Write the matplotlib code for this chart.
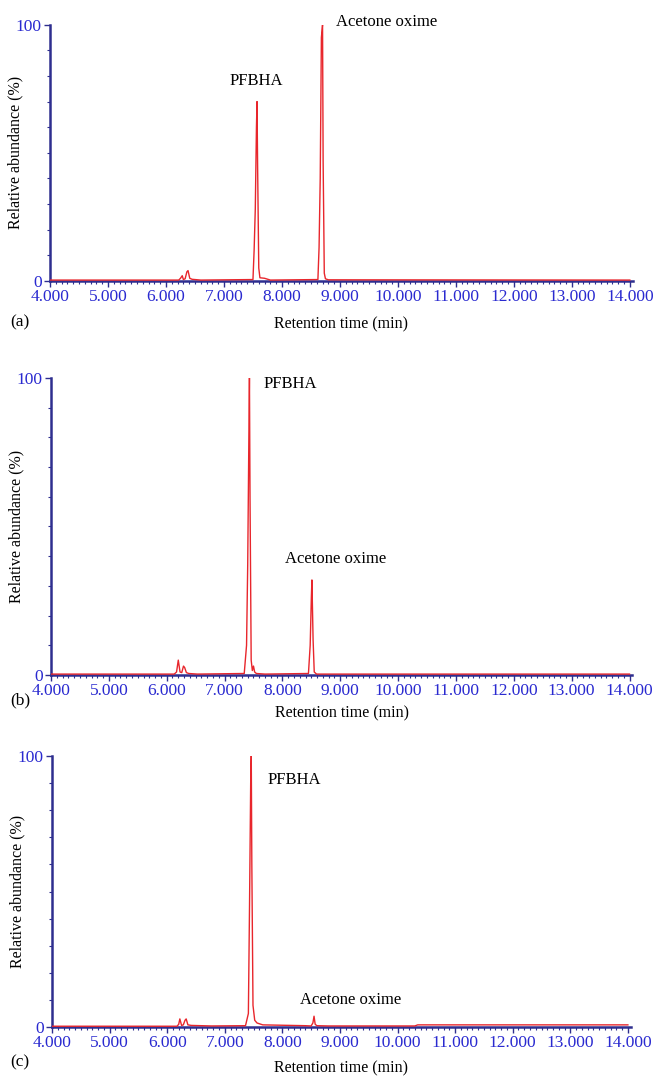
import matplotlib
matplotlib.use("Agg")
from matplotlib import pyplot as plt
from matplotlib.ticker import MultipleLocator, FormatStrFormatter

plt.rcParams["font.family"] = ["Liberation Serif", "DejaVu Serif"]

# chromatogram traces (time in min, relative abundance in %)
a_time = [4.00, 6.22, 6.25, 6.28, 6.30, 6.33, 6.36, 6.38, 6.41, 6.45, 6.50, 6.60,
          7.50, 7.52, 7.54, 7.56, 7.57, 7.58, 7.60, 7.62, 7.70, 7.80,
          8.62, 8.64, 8.66, 8.68, 8.70, 8.71, 8.73, 8.75, 8.80, 14.00]
a_abund = [0.3, 0.3, 1.0, 2.0, 0.5, 0.8, 3.5, 4.0, 1.0, 0.6, 0.5, 0.3,
           0.5, 12, 28, 60, 70, 45, 5, 1.2, 1.0, 0.3,
           0.5, 13, 40, 95, 100, 47, 3, 0.8, 0.4, 0.3]

b_time = [4.00, 6.13, 6.17, 6.20, 6.23, 6.26, 6.29, 6.31, 6.34, 6.38, 6.53,
          7.34, 7.38, 7.40, 7.42, 7.43, 7.44, 7.46, 7.48, 7.50, 7.52, 7.55, 7.70,
          8.45, 8.48, 8.50, 8.51, 8.53, 8.55, 8.59, 14.00]
b_abund = [0.3, 0.3, 1.0, 5.0, 1.0, 0.8, 3.0, 2.5, 0.8, 0.5, 0.3,
           0.5, 10, 37, 80, 100, 60, 5, 1.5, 3.0, 1.0, 0.5, 0.3,
           0.5, 10, 26, 32, 12, 1.0, 0.3, 0.3]

c_time = [4.00, 6.17, 6.20, 6.22, 6.25, 6.28, 6.31, 6.33, 6.36, 6.42, 6.77,
          7.36, 7.41, 7.43, 7.45, 7.46, 7.47, 7.49, 7.52, 7.56, 7.66,
          8.40, 8.50, 8.53, 8.55, 8.57, 8.60, 8.80, 10.30, 10.35, 14.00]
c_abund = [0.3, 0.3, 1.0, 3.0, 0.6, 0.8, 2.5, 3.0, 0.8, 0.6, 0.4,
           0.5, 5, 45, 90, 100, 60, 8, 2.5, 1.5, 0.8,
           0.5, 0.4, 1.5, 4.0, 1.0, 0.5, 0.4, 0.4, 0.8, 0.8]

panels = ["(a)", "(b)", "(c)"]
times = [a_time, b_time, c_time]
abunds = [a_abund, b_abund, c_abund]
# peak labels: (text, x, y, horizontal alignment)
labels = [
    [("PFBHA", 7.55, 78, "center"), ("Acetone oxime", 8.93, 101, "left")],
    [("PFBHA", 7.68, 98, "left"), ("Acetone oxime", 8.05, 39, "left")],
    [("PFBHA", 7.75, 91, "left"), ("Acetone oxime", 8.30, 10, "left")],
]

# axes boxes in figure fraction (left, bottom, width, height)
boxes = [
    (0.0765, 0.739, 0.891, 0.238),
    (0.078, 0.3727, 0.889, 0.276),
    (0.0795, 0.0455, 0.885, 0.2519),
]
xlab_y = [-0.137, -0.104, -0.122]
panel_y = [322, 700, 1062]

red = "#e8262c"
navy = "#2e2e8f"
blue = "#2a2ad0"

fig = plt.figure(figsize=(6.54, 10.76), dpi=100)

for i in range(3):
    ax = fig.add_axes(boxes[i])
    ax.plot(times[i], abunds[i], color=red, lw=1.0, zorder=3)
    ax.set_xlim(4.0, 14.05)
    ax.set_ylim(0, 100)
    ax.spines["top"].set_visible(False)
    ax.spines["right"].set_visible(False)
    for s in ["left", "bottom"]:
        ax.spines[s].set_color(navy)
        ax.spines[s].set_linewidth(1.8)
    ax.set_xticks([4, 5, 6, 7, 8, 9, 10, 11, 12, 13, 14])
    ax.xaxis.set_major_formatter(FormatStrFormatter("%.3f"))
    ax.xaxis.set_minor_locator(MultipleLocator(0.1))
    ax.set_yticks([0, 100])
    ax.yaxis.set_minor_locator(MultipleLocator(10))
    ax.tick_params(which="major", length=4, width=1, color=navy,
                   labelcolor=blue, labelsize=12.5, pad=2)
    ax.tick_params(which="minor", length=2.5, width=0.8, color=navy)
    ax.set_xlabel("Retention time (min)", fontsize=11.5)
    ax.xaxis.set_label_coords(0.5, xlab_y[i])
    ax.set_ylabel("Relative abundance (%)", fontsize=11.5)
    ax.yaxis.set_label_coords(-0.046, 0.5)
    for txt, x, y, ha in labels[i]:
        ax.text(x, y, txt, ha=ha, va="center", fontsize=12, clip_on=False)
    fig.text(10 / 654, 1 - panel_y[i] / 1076, panels[i], fontsize=12.5,
             ha="left", va="center")

fig.savefig("out.png", dpi=100)
